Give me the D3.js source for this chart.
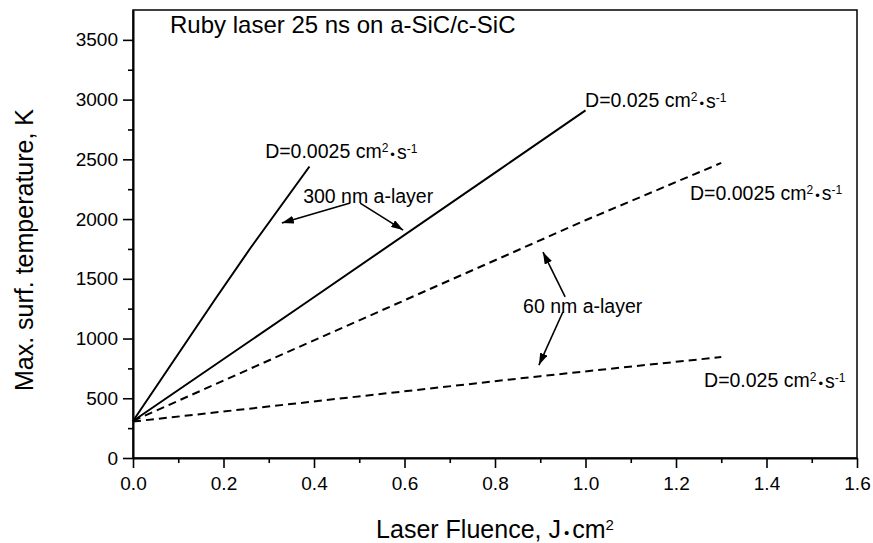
<!DOCTYPE html>
<html>
<head>
<meta charset="utf-8">
<script src="https://cdn.jsdelivr.net/npm/d3@7"></script>
<style>
  body { margin: 0; background: #fff; }
  text { font-family: "Liberation Sans", Arial, sans-serif; fill: #000; }
</style>
</head>
<body>
<div id="vis"></div>
<script>
// curves (fluence in J/cm2, temperature in K)
const fluence300Slow = [0, 0.18, 0.26, 0.39];
const temp300Slow = [310, 1320, 1760, 2440];
const fluence300Fast = [0, 0.37, 0.81, 1.0];
const temp300Fast = [310, 1268, 2414, 2910];
const fluence60Slow = [0, 0.37, 1.0, 1.3];
const temp60Slow = [310, 935, 1990, 2470];
const fluence60Fast = [0, 0.38, 0.9, 1.3];
const temp60Fast = [305, 465, 685, 845];

// axis ticks
const xTicks = [0, 0.2, 0.4, 0.6, 0.8, 1.0, 1.2, 1.4, 1.6];
const xMinor = [0.1, 0.3, 0.5, 0.7, 0.9, 1.1, 1.3, 1.5];
const yTicks = [0, 500, 1000, 1500, 2000, 2500, 3000, 3500];
const yMinor = [250, 750, 1250, 1750, 2250, 2750, 3250];

// annotation labels (anchored in data units)
const labelText = ["D=0.0025 cm|2|s|-1", "D=0.025 cm|2|s|-1", "300 nm a-layer",
                   "D=0.0025 cm|2|s|-1", "60 nm a-layer", "D=0.025 cm|2|s|-1"];
const labelX = [0.292, 0.999, 0.376, 1.231, 0.862, 1.262];
const labelY = [2511, 2938, 2134, 2160, 1214, 594];

// arrows: [x0, y0, x1, y1] in data units
const arrows = [
  [0.480, 2134, 0.329, 1967],
  [0.502, 2134, 0.597, 1908],
  [0.955, 1348, 0.906, 1724],
  [0.950, 1222, 0.897, 778]
];

let margin = { top: 10, left: 133, right: 16, bottom: 85 },
  width = 873 - margin.left - margin.right,
  height = 543 - margin.top - margin.bottom;

const svg = d3.select("#vis")
  .append("svg")
    .attr("width", 873)
    .attr("height", 543);

const g = svg.append("g")
    .attr("transform", `translate(${margin.left},${margin.top})`);

const x = d3.scaleLinear().domain([0, 1.6]).range([0, width]);
const y = d3.scaleLinear().domain([0, 3750]).range([height, 0]);

// frame (top + right)
g.append("rect")
  .attr("width", width)
  .attr("height", height)
  .attr("fill", "none")
  .attr("stroke", "#000")
  .attr("stroke-width", 1.5);

// minor ticks
g.append("g")
  .attr("transform", `translate(0,${height})`)
  .call(d3.axisBottom(x).tickValues(xMinor).tickSize(5).tickFormat(""))
  .call(a => a.select(".domain").remove());
g.append("g")
  .call(d3.axisLeft(y).tickValues(yMinor).tickSize(5).tickFormat(""))
  .call(a => a.select(".domain").remove());

// major axes
const xAxis = g.append("g")
  .attr("transform", `translate(0,${height})`)
  .call(d3.axisBottom(x).tickValues(xTicks).tickSize(10).tickSizeOuter(0)
    .tickPadding(9).tickFormat(d3.format(".1f")));
const yAxis = g.append("g")
  .call(d3.axisLeft(y).tickValues(yTicks).tickSize(10).tickSizeOuter(0)
    .tickPadding(5).tickFormat(d3.format("d")));

[xAxis, yAxis].forEach(a => {
  a.selectAll("text").style("font-size", "19px").attr("font-family", null);
  a.selectAll("line, path").attr("stroke-width", 2);
});
svg.selectAll(".tick line").attr("stroke-width", 1.6);

// curves
const line = d3.line().x(d => x(d[0])).y(d => y(d[1]));
const curves = [
  { pts: d3.zip(fluence300Slow, temp300Slow), dash: null },
  { pts: d3.zip(fluence300Fast, temp300Fast), dash: null },
  { pts: d3.zip(fluence60Slow, temp60Slow), dash: "8,5" },
  { pts: d3.zip(fluence60Fast, temp60Fast), dash: "8,5" }
];
g.selectAll(".curve")
  .data(curves)
  .join("path")
    .attr("class", "curve")
    .attr("d", d => line(d.pts))
    .attr("fill", "none")
    .attr("stroke", "#000")
    .attr("stroke-width", 2)
    .attr("stroke-dasharray", d => d.dash);

// arrow head
svg.append("defs").append("marker")
  .attr("id", "head")
  .attr("markerUnits", "userSpaceOnUse")
  .attr("markerWidth", 12).attr("markerHeight", 8)
  .attr("refX", 12).attr("refY", 4)
  .attr("orient", "auto")
  .append("path").attr("d", "M0,0L12,4L0,8Z").attr("fill", "#000");

g.selectAll(".arrow")
  .data(arrows)
  .join("line")
    .attr("class", "arrow")
    .attr("x1", d => x(d[0])).attr("y1", d => y(d[1]))
    .attr("x2", d => x(d[2])).attr("y2", d => y(d[3]))
    .attr("stroke", "#000")
    .attr("stroke-width", 1.6)
    .attr("marker-end", "url(#head)");

// labels, "|" splits base text / superscript / text / superscript
g.selectAll(".lbl")
  .data(labelText)
  .join("text")
    .attr("class", "lbl")
    .attr("x", (d, i) => x(labelX[i]))
    .attr("y", (d, i) => y(labelY[i]))
    .style("font-size", "19.5px")
    .each(function(d) {
      const t = d3.select(this);
      const parts = d.split("|");
      if (parts.length === 1) { t.text(d); return; }
      t.append("tspan").text(parts[0]);
      t.append("tspan").text(parts[1]).attr("dy", "-0.5em").style("font-size", "12px");
      t.append("tspan").text("\u2022").attr("dy", "0.5em").attr("dx", 2).style("font-size", "13px");
      t.append("tspan").text(parts[2]).attr("dx", 2);
      t.append("tspan").text(parts[3]).attr("dy", "-0.5em").style("font-size", "12px");
    });

// title
g.append("text")
  .attr("x", 37)
  .attr("y", 23)
  .style("font-size", "24px")
  .text("Ruby laser 25 ns on a-SiC/c-SiC");

// axis titles
const xt = svg.append("text")
  .attr("x", margin.left + width / 2)
  .attr("y", 538)
  .attr("text-anchor", "middle")
  .style("font-size", "25px");
xt.append("tspan").text("Laser Fluence, J");
xt.append("tspan").text("\u2022").attr("dx", 3).style("font-size", "15px");
xt.append("tspan").text("cm").attr("dx", 3);
xt.append("tspan").text("2").attr("dy", "-0.55em").style("font-size", "15px");

svg.append("text")
  .attr("transform", "translate(33,250) rotate(-90)")
  .attr("text-anchor", "middle")
  .style("font-size", "25px")
  .text("Max. surf. temperature, K");
</script>
</body>
</html>
